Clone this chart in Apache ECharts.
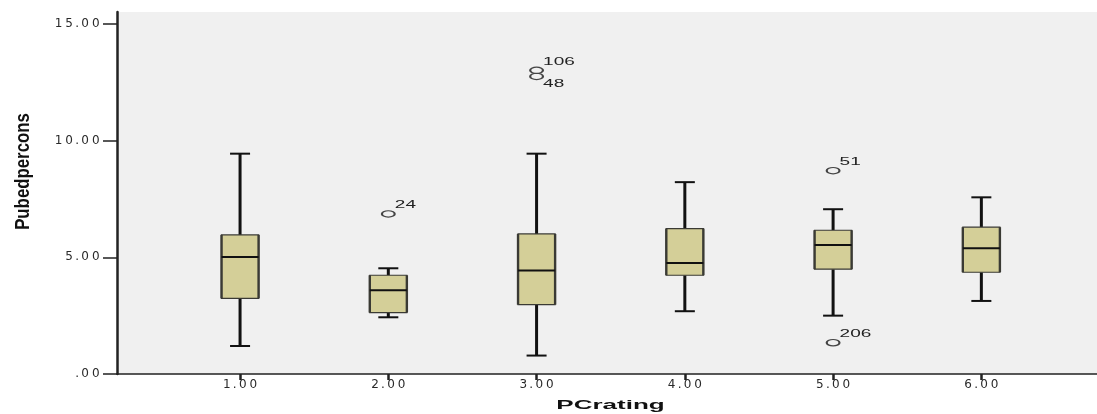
<!DOCTYPE html>
<html>
<head>
<meta charset="utf-8">
<script src="https://cdn.jsdelivr.net/npm/echarts@6/dist/echarts.min.js"></script>
<style>
  html, body { margin: 0; padding: 0; background: #ffffff; }
  #chart { width: 1097px; height: 414px; }
</style>
</head>
<body>
<div id="chart"></div>
<script>
// ---- data ----
const categories = [1, 2, 3, 4, 5, 6];
const whiskerLow  = [1.20, 2.43, 0.79, 2.69, 2.50, 3.13];
const quart1      = [3.24, 2.63, 2.97, 4.23, 4.49, 4.36];
const medians     = [5.01, 3.59, 4.43, 4.76, 5.53, 5.39];
const quart3      = [5.96, 4.23, 6.00, 6.23, 6.16, 6.29];
const whiskerHigh = [9.44, 4.53, 9.44, 8.22, 7.06, 7.57];

const outlierCat   = [2, 3, 3, 5, 5];
const outlierValue = [6.86, 13.01, 12.75, 8.71, 1.34];
const outlierId    = ['24', '106', '48', '51', '206'];
const outlierBelow = [0, 0, 1, 0, 0];

const xTicks = [1, 2, 3, 4, 5, 6];
const yTicks = [0, 5, 10, 15];
const xTitle = 'PCrating';
const yTitle = 'Pubedpercons';

// ---- build ----
const FONT = '"Liberation Sans", Arial, sans-serif';
const TICKFONT = '"DejaVu Sans", "Liberation Sans", sans-serif';
const boxData = categories.map((c, i) => [c, whiskerLow[i], quart1[i], medians[i], quart3[i], whiskerHigh[i]]);
const outData = outlierCat.map((c, i) => [c, outlierValue[i], outlierId[i], outlierBelow[i]]);

function fmt(v) {
  const s = Number(v).toFixed(2);
  return s.startsWith('0') ? s.slice(1) : s;
}
function spaced(str) {
  return str.split('').map(ch => ch === '.' ? '{p|.}' : '{d|' + ch + '}').join('');
}
const richTick = {
  d: { width: 10.6, align: 'center', fontSize: 12, fontFamily: TICKFONT, color: '#2a2a2a' },
  p: { width: 5.4, align: 'center', fontSize: 12, fontFamily: TICKFONT, color: '#2a2a2a' }
};

const chart = echarts.init(document.getElementById('chart'), null, { renderer: 'canvas' });
chart.setOption({
  animation: false,
  backgroundColor: '#ffffff',
  grid: {
    left: 117, right: 0, top: 12, bottom: 40,
    show: true, backgroundColor: '#f0f0f0', borderWidth: 0,
    containLabel: false, outerBoundsMode: 'none'
  },
  xAxis: {
    type: 'value', min: 0.17, max: 6.78,
    axisLine: { show: true, onZero: false, lineStyle: { color: '#222', width: 1.5 } },
    axisTick: { show: true, length: 6, customValues: xTicks, lineStyle: { color: '#222', width: 2.5 } },
    axisLabel: {
      show: true, margin: 5, customValues: xTicks,
      fontSize: 12, fontFamily: TICKFONT, color: '#2a2a2a',
      formatter: v => xTicks.includes(v) ? spaced(fmt(v)) : '',
      rich: richTick
    },
    splitLine: { show: false }
  },
  yAxis: {
    type: 'value', min: 0, max: 15.51,
    axisLine: { show: true, onZero: false, lineStyle: { color: '#222', width: 2.5 } },
    axisTick: { show: true, length: 14, customValues: yTicks, lineStyle: { color: '#222', width: 1.5 } },
    axisLabel: {
      show: true, margin: 16, customValues: yTicks,
      fontSize: 12, fontFamily: TICKFONT, color: '#2a2a2a',
      formatter: v => yTicks.includes(v) ? spaced(fmt(v)) : '',
      rich: richTick
    },
    splitLine: { show: false }
  },
  graphic: [
    {
      type: 'text', x: 610.5, y: 405, scaleX: 2.0,
      style: { text: xTitle, font: 'bold 13px ' + FONT, fill: '#111', align: 'center', verticalAlign: 'middle' }
    },
    {
      type: 'text', x: 23, y: 171.5, rotation: Math.PI / 2, scaleX: 0.8,
      style: { text: yTitle, font: 'bold 21px ' + FONT, fill: '#111', align: 'center', verticalAlign: 'middle' }
    }
  ],
  series: [
    {
      type: 'custom',
      data: boxData,
      encode: { x: 0, y: [1, 2, 3, 4, 5] },
      renderItem: function (params, api) {
        const x = api.value(0);
        const pMin = api.coord([x, api.value(1)]);
        const pQ1 = api.coord([x, api.value(2)]);
        const pMed = api.coord([x, api.value(3)]);
        const pQ3 = api.coord([x, api.value(4)]);
        const pMax = api.coord([x, api.value(5)]);
        const boxW = api.size([0.25, 0])[0];
        const capW = api.size([0.135, 0])[0];
        const cx = pMed[0];
        const l = cx - boxW / 2, r = cx + boxW / 2;
        const dark = '#111';
        return {
          type: 'group',
          children: [
            { type: 'line', shape: { x1: cx, y1: pQ3[1], x2: cx, y2: pMax[1] }, style: { stroke: dark, lineWidth: 3 } },
            { type: 'line', shape: { x1: cx, y1: pQ1[1], x2: cx, y2: pMin[1] }, style: { stroke: dark, lineWidth: 3 } },
            { type: 'line', shape: { x1: cx - capW / 2, y1: pMax[1], x2: cx + capW / 2, y2: pMax[1] }, style: { stroke: dark, lineWidth: 2 } },
            { type: 'line', shape: { x1: cx - capW / 2, y1: pMin[1], x2: cx + capW / 2, y2: pMin[1] }, style: { stroke: dark, lineWidth: 2 } },
            { type: 'rect', shape: { x: l, y: pQ3[1], width: boxW, height: pQ1[1] - pQ3[1] }, style: { fill: '#d4cf98', stroke: '#3a3a34', lineWidth: 1.2 } },
            { type: 'line', shape: { x1: l, y1: pQ3[1], x2: l, y2: pQ1[1] }, style: { stroke: '#3a3a34', lineWidth: 2.4 } },
            { type: 'line', shape: { x1: r, y1: pQ3[1], x2: r, y2: pQ1[1] }, style: { stroke: '#3a3a34', lineWidth: 2.4 } },
            { type: 'line', shape: { x1: l, y1: pMed[1], x2: r, y2: pMed[1] }, style: { stroke: dark, lineWidth: 2 } }
          ]
        };
      }
    },
    {
      type: 'custom',
      data: outData,
      encode: { x: 0, y: 1 },
      renderItem: function (params, api) {
        const p = api.coord([api.value(0), api.value(1)]);
        const idx = params.dataIndex;
        const below = outData[idx][3] === 1;
        return {
          type: 'group',
          children: [
            { type: 'circle', x: p[0], y: p[1], scaleX: 2, shape: { cx: 0, cy: 0, r: 3.2 }, style: { fill: 'none', stroke: '#444', lineWidth: 1.1 } },
            {
              type: 'text', x: p[0] + 6.5, y: below ? p[1] + 7.5 : p[1] - 8.5, scaleX: 1.9,
              style: { text: outData[idx][2], fontSize: 10, fontFamily: FONT, fill: '#222', align: 'left', verticalAlign: 'middle' }
            }
          ]
        };
      }
    }
  ]
});
</script>
</body>
</html>
